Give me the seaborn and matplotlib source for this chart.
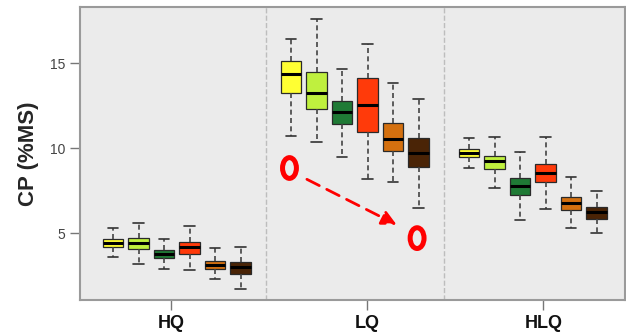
import pandas as pd
import seaborn as sns
import matplotlib.pyplot as plt
from matplotlib.patches import Ellipse

# five-number summaries (whisker low, Q1, median, Q3, whisker high)
groups = ["HQ", "LQ", "HLQ"]
varieties = ["v1", "v2", "v3", "v4", "v5", "v6"]
colors = ["#FFFF33", "#BFF03E", "#1F7A35", "#FF3A0A", "#D4700F", "#4A2406"]

hq_stats = [
    [3.59, 4.21, 4.43, 4.66, 5.29],
    [3.18, 4.06, 4.43, 4.74, 5.59],
    [2.92, 3.53, 3.78, 4.04, 4.68],
    [2.84, 3.78, 4.18, 4.47, 5.45],
    [2.29, 2.92, 3.14, 3.39, 4.12],
    [1.73, 2.61, 3.04, 3.29, 4.18],
]
lq_stats = [
    [10.72, 13.24, 14.35, 15.15, 16.41],
    [10.35, 12.31, 13.27, 14.51, 17.61],
    [9.51, 11.41, 12.12, 12.78, 14.65],
    [8.19, 10.96, 12.55, 14.15, 16.12],
    [8.04, 9.86, 10.53, 11.47, 13.82],
    [6.47, 8.92, 9.74, 10.59, 12.88],
]
hlq_stats = [
    [8.82, 9.47, 9.71, 9.94, 10.59],
    [7.68, 8.78, 9.27, 9.55, 10.65],
    [5.80, 7.24, 7.78, 8.24, 9.80],
    [6.45, 8.02, 8.56, 9.08, 10.65],
    [5.29, 6.37, 6.80, 7.15, 8.29],
    [5.04, 5.82, 6.24, 6.53, 7.51],
]

rows = []
for g, stats in zip(groups, [hq_stats, lq_stats, hlq_stats]):
    for v, vals in zip(varieties, stats):
        for val in vals:
            rows.append({"group": g, "variety": v, "cp": val})
df = pd.DataFrame(rows)

sns.set_style("white", {"axes.facecolor": "#EBEBEB", "axes.edgecolor": "#9A9A9A"})
plt.rcParams["font.family"] = ["Liberation Sans", "DejaVu Sans"]

fig = plt.figure(figsize=(6.26, 3.36), dpi=100)
ax = fig.add_axes([0.128, 0.107, 0.871, 0.872])

sns.boxplot(
    data=df, x="group", y="cp", hue="variety", palette=colors, saturation=1,
    whis=(0, 100), width=0.86, gap=0.2, showfliers=False, legend=False,
    linecolor="#2A2A2A", linewidth=0.9,
    medianprops={"color": "black", "linewidth": 2.2},
    whiskerprops={"linestyle": (0, (3, 2)), "color": "#444444", "linewidth": 1.2},
    capprops={"color": "#333333", "linewidth": 1.2},
    ax=ax,
)

ax.axvline(0.5, color="#BDBDBD", ls="--", lw=1, zorder=0)
ax.axvline(1.5, color="#BDBDBD", ls="--", lw=1, zorder=0)

ax.set_xlim(-0.543, 2.52)
ax.set_ylim(1.08, 18.3)
ax.set_yticks([5, 10, 15])
ax.set_xticks([-0.03, 1.07, 2.06])
ax.set_xticklabels(groups, fontsize=13, fontweight="bold", color="#111111")
ax.tick_params(axis="y", labelsize=10, labelcolor="#444444", length=7,
               color="#777777", width=1, left=True)
ax.tick_params(axis="x", length=7, color="#777777", width=1, bottom=True, pad=4)
ax.set_xlabel("")
ax.set_ylabel("CP (%MS)", fontsize=16, fontweight="bold", labelpad=8)
for s in ax.spines.values():
    s.set_linewidth(1.5)

# red annotation
for cx, cy in [(0.633, 8.84), (1.35, 4.72)]:
    ax.add_patch(Ellipse((cx, cy), 0.078, 1.22, fill=False, ec="red", lw=3.6, zorder=5))
ax.annotate("", xy=(1.249, 5.43), xytext=(0.717, 8.25),
            arrowprops=dict(arrowstyle="-|>", color="red", lw=2,
                            linestyle=(0, (5, 3)), mutation_scale=22))

plt.savefig("out.png", dpi=100)
